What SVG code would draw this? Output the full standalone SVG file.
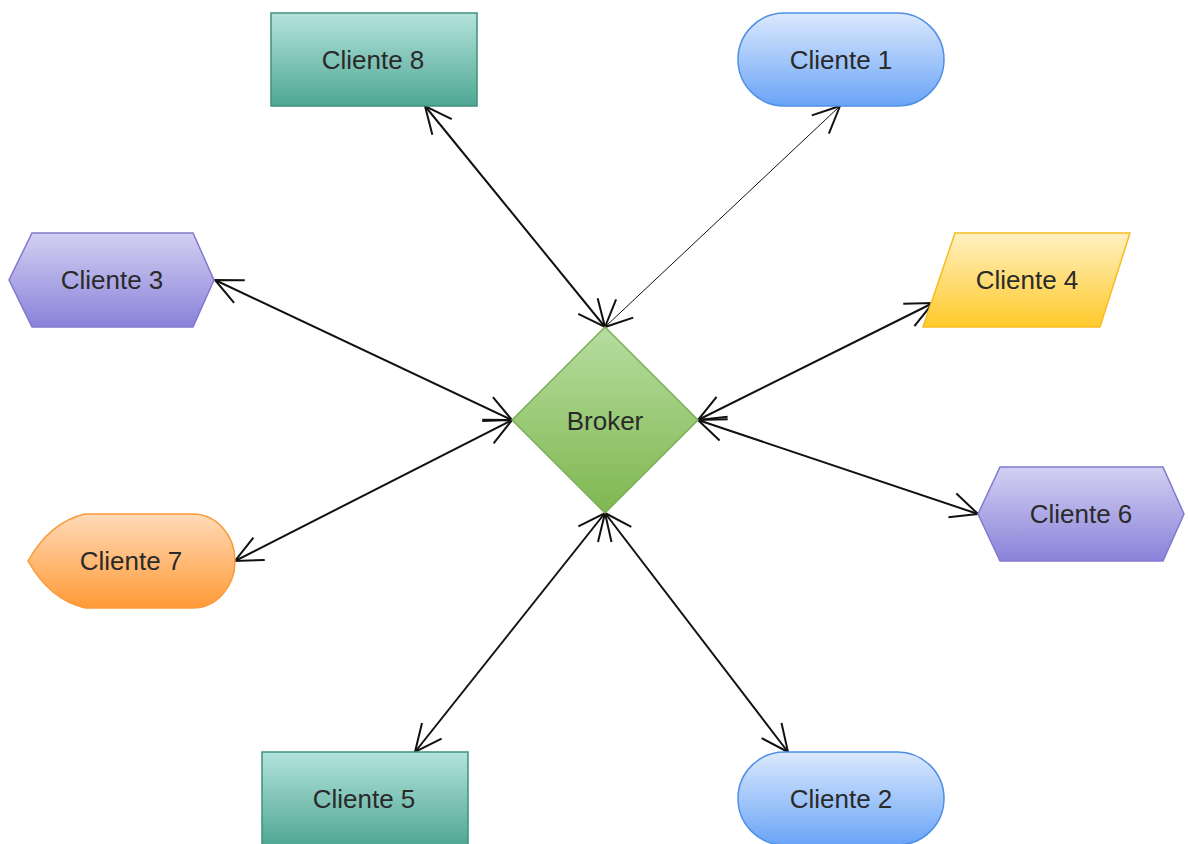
<svg xmlns="http://www.w3.org/2000/svg" width="1188" height="844" viewBox="0 0 1188 844">
<style>
text{font-family:"Liberation Sans",Arial,sans-serif;font-size:26px;fill:#2a2a2a;text-anchor:middle;dominant-baseline:central}
.c{fill:none;stroke:#111;stroke-width:2;marker-start:url(#open);marker-end:url(#open)}
.thin{stroke-width:1}
</style>
<defs>
<linearGradient id="gTeal" x1="0" y1="0" x2="0" y2="1"><stop offset="0" stop-color="#b4e3dc"/><stop offset="1" stop-color="#4fa794"/></linearGradient>
<linearGradient id="gBlue" x1="0" y1="0" x2="0" y2="1"><stop offset="0" stop-color="#dbe9fd"/><stop offset="1" stop-color="#6aa4f7"/></linearGradient>
<linearGradient id="gPurple" x1="0" y1="0" x2="0" y2="1"><stop offset="0" stop-color="#d2d0f2"/><stop offset="1" stop-color="#8a82d9"/></linearGradient>
<linearGradient id="gYellow" x1="0" y1="0" x2="0" y2="1"><stop offset="0" stop-color="#fff0c2"/><stop offset="1" stop-color="#ffca2a"/></linearGradient>
<linearGradient id="gGreen" x1="0" y1="0" x2="0" y2="1"><stop offset="0" stop-color="#b6dd9f"/><stop offset="1" stop-color="#7fb74f"/></linearGradient>
<linearGradient id="gOrange" x1="0" y1="0" x2="0" y2="1"><stop offset="0" stop-color="#ffdab8"/><stop offset="1" stop-color="#ff9a36"/></linearGradient>
<marker id="open" markerUnits="userSpaceOnUse" markerWidth="40" markerHeight="40" viewBox="-35 -20 40 40" refX="0" refY="0" orient="auto-start-reverse" overflow="visible">
<path d="M-27,-12.5 L0,0 L-27,12.5" fill="none" stroke="#111" stroke-width="2"/>
</marker>
</defs>
<g id="connectors">
<line class="c" x1="425" y1="106" x2="605" y2="327"/>
<line class="c thin" x1="840" y1="106" x2="605" y2="327"/>
<line class="c" x1="215" y1="280" x2="512" y2="420"/>
<line class="c" x1="933" y1="303" x2="698" y2="420"/>
<line class="c" x1="978" y1="514" x2="698" y2="420"/>
<line class="c" x1="235" y1="561" x2="512" y2="420"/>
<line class="c" x1="415" y1="752" x2="605" y2="513"/>
<line class="c" x1="788" y1="752" x2="605" y2="513"/>
</g>
<g id="cliente8"><rect x="271" y="13" width="206" height="93" fill="url(#gTeal)" stroke="#3d927f" stroke-width="1.5"/><text x="373" y="60">Cliente 8</text></g>
<g id="cliente1"><rect x="738" y="13" width="206" height="93" rx="46.5" fill="url(#gBlue)" stroke="#4f8fe6" stroke-width="1.5"/><text x="841" y="60">Cliente 1</text></g>
<g id="cliente3"><polygon points="32,233 193,233 214,280 193,327 32,327 9,280" fill="url(#gPurple)" stroke="#8279cf" stroke-width="1.5"/><text x="112" y="280">Cliente 3</text></g>
<g id="cliente4"><polygon points="955,233 1130,233 1100,327 923,327" fill="url(#gYellow)" stroke="#f5bd22" stroke-width="1.5"/><text x="1027" y="280">Cliente 4</text></g>
<g id="broker"><polygon points="605,327 698,420 605,513 512,420" fill="url(#gGreen)" stroke="#7aae5c" stroke-width="1.5"/><text x="605" y="421">Broker</text></g>
<g id="cliente7"><path d="M28,561 Q50,522 85,514 L193,514 A42,47 0 0 1 193,608 L85,608 Q50,600 28,561 Z" fill="url(#gOrange)" stroke="#fb9a3a" stroke-width="1.5"/><text x="131" y="561">Cliente 7</text></g>
<g id="cliente6"><polygon points="1000,467 1163,467 1184,514 1163,561 1000,561 978,514" fill="url(#gPurple)" stroke="#8279cf" stroke-width="1.5"/><text x="1081" y="514">Cliente 6</text></g>
<g id="cliente5"><rect x="262" y="752" width="206" height="93" fill="url(#gTeal)" stroke="#3d927f" stroke-width="1.5"/><text x="364" y="799">Cliente 5</text></g>
<g id="cliente2"><rect x="738" y="752" width="206" height="93" rx="46.5" fill="url(#gBlue)" stroke="#4f8fe6" stroke-width="1.5"/><text x="841" y="799">Cliente 2</text></g>
</svg>
